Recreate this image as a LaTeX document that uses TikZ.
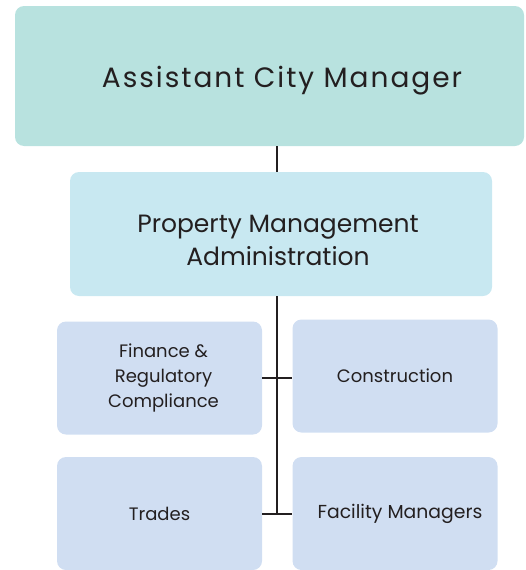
\documentclass[tikz,border=0pt]{standalone}
\usepackage{fontspec}
\setmainfont{Poppins}
\usepackage{xcolor}
\usetikzlibrary{positioning}

\definecolor{mgrfill}{HTML}{B8E2DF}
\definecolor{admfill}{HTML}{C8E8F1}
\definecolor{unitfill}{HTML}{D0DEF2}
\definecolor{inkgray}{HTML}{231F20}

\tikzset{
  orgbox/.style={rounded corners=9pt, inner sep=0pt, text=inkgray, align=center},
  mgrbox/.style={orgbox, fill=mgrfill, minimum width=509pt, minimum height=140pt},
  admbox/.style={orgbox, fill=admfill, minimum width=422pt, minimum height=124pt},
  unitbox/.style={orgbox, fill=unitfill, minimum width=205pt, minimum height=113pt,
    font=\fontsize{18}{25}\selectfont},
  boxtext/.style={text=inkgray, align=center, inner sep=0pt},
  link/.style={draw=inkgray, line width=2pt}
}

\begin{document}
\begin{tikzpicture}[x=1pt, y=-1pt]

\useasboundingbox (0,0) rectangle (525,570);

\node[mgrbox] (acm) at (269.5,76) {};
\node[boxtext, font=\fontsize{28}{32}\selectfont\addfontfeatures{LetterSpace=7}] (acmtext) at (282,81) {Assistant City Manager};

\node[admbox] (pma) at (281,234) {};
\node[boxtext, font=\fontsize{25}{33}\selectfont] (pmatext) at (278,240) {Property Management\\Administration};

\node[unitbox] (fin) at (159.5,378) {\hspace*{8pt}Finance \&\\\hspace*{8pt}Regulatory\\\hspace*{8pt}Compliance};
\node[unitbox] (con) at (395,376) {Construction};
\node[unitbox] (trd) at (159.5,513.5) {Trades};
\node[unitbox] (fac) at (395,513.5) {\fontsize{18.8}{25}\selectfont\hspace*{10pt}Facility Managers};

% the spine runs down between the two columns
\coordinate (spine) at (277,0);

\draw[link] (spine |- acm.south) -- (spine |- pma.north);
\draw[link] (spine |- pma.south) -- (spine |- trd.east);
\draw[link] (fin.east) -- (con.west |- fin.east);
\draw[link] (trd.east) -- (fac.west);

\end{tikzpicture}
\end{document}
